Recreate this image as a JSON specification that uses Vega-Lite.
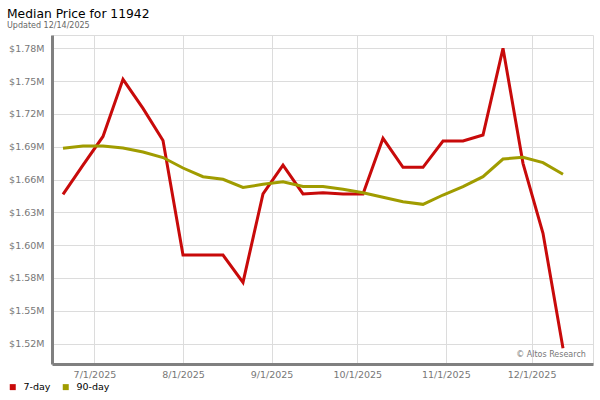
{
  "$schema": "https://vega.github.io/schema/vega-lite/v6.json",
  "width": 541,
  "height": 329,
  "autosize": {"type": "none"},
  "padding": {"left": 52, "top": 35, "right": 7, "bottom": 36},
  "background": "#ffffff",
  "title": {
    "text": "Median Price for 11942",
    "subtitle": "Updated 12/14/2025",
    "anchor": "start",
    "frame": "bounds",
    "font": "DejaVu Sans",
    "fontSize": 12.3,
    "fontWeight": "normal",
    "color": "#000000",
    "subtitleFont": "DejaVu Sans",
    "subtitleFontSize": 8,
    "subtitleColor": "#666666",
    "subtitlePadding": 2,
    "offset": 5,
    "dx": -1
  },
  "config": {
    "font": "DejaVu Sans",
    "view": {"stroke": "#dcdcdc", "strokeWidth": 1}
  },
  "datasets": {
    "prices": [
      {"date": "2025-06-20T00:00:00", "series": "7-day", "price": 1649000},
      {"date": "2025-06-27T00:00:00", "series": "7-day", "price": 1674700},
      {"date": "2025-07-04T00:00:00", "series": "7-day", "price": 1699800},
      {"date": "2025-07-11T00:00:00", "series": "7-day", "price": 1750000},
      {"date": "2025-07-18T00:00:00", "series": "7-day", "price": 1724500},
      {"date": "2025-07-25T00:00:00", "series": "7-day", "price": 1696200},
      {"date": "2025-08-01T00:00:00", "series": "7-day", "price": 1595700},
      {"date": "2025-08-08T00:00:00", "series": "7-day", "price": 1595700},
      {"date": "2025-08-15T00:00:00", "series": "7-day", "price": 1595700},
      {"date": "2025-08-22T00:00:00", "series": "7-day", "price": 1571700},
      {"date": "2025-08-29T00:00:00", "series": "7-day", "price": 1649300},
      {"date": "2025-09-05T00:00:00", "series": "7-day", "price": 1674700},
      {"date": "2025-09-12T00:00:00", "series": "7-day", "price": 1649300},
      {"date": "2025-09-19T00:00:00", "series": "7-day", "price": 1650400},
      {"date": "2025-09-26T00:00:00", "series": "7-day", "price": 1649300},
      {"date": "2025-10-03T00:00:00", "series": "7-day", "price": 1649300},
      {"date": "2025-10-10T00:00:00", "series": "7-day", "price": 1698200},
      {"date": "2025-10-17T00:00:00", "series": "7-day", "price": 1672700},
      {"date": "2025-10-24T00:00:00", "series": "7-day", "price": 1672700},
      {"date": "2025-10-31T00:00:00", "series": "7-day", "price": 1695800},
      {"date": "2025-11-07T00:00:00", "series": "7-day", "price": 1695800},
      {"date": "2025-11-14T00:00:00", "series": "7-day", "price": 1701100},
      {"date": "2025-11-21T00:00:00", "series": "7-day", "price": 1777200},
      {"date": "2025-11-28T00:00:00", "series": "7-day", "price": 1676200},
      {"date": "2025-12-05T00:00:00", "series": "7-day", "price": 1614800},
      {"date": "2025-12-12T00:00:00", "series": "7-day", "price": 1513800},
      {"date": "2025-06-20T00:00:00", "series": "90-day", "price": 1689400},
      {"date": "2025-06-27T00:00:00", "series": "90-day", "price": 1691400},
      {"date": "2025-07-04T00:00:00", "series": "90-day", "price": 1691400},
      {"date": "2025-07-11T00:00:00", "series": "90-day", "price": 1689700},
      {"date": "2025-07-18T00:00:00", "series": "90-day", "price": 1686100},
      {"date": "2025-07-25T00:00:00", "series": "90-day", "price": 1681300},
      {"date": "2025-08-01T00:00:00", "series": "90-day", "price": 1672100},
      {"date": "2025-08-08T00:00:00", "series": "90-day", "price": 1664500},
      {"date": "2025-08-15T00:00:00", "series": "90-day", "price": 1662200},
      {"date": "2025-08-22T00:00:00", "series": "90-day", "price": 1655000},
      {"date": "2025-08-29T00:00:00", "series": "90-day", "price": 1657800},
      {"date": "2025-09-05T00:00:00", "series": "90-day", "price": 1660100},
      {"date": "2025-09-12T00:00:00", "series": "90-day", "price": 1655900},
      {"date": "2025-09-19T00:00:00", "series": "90-day", "price": 1655900},
      {"date": "2025-09-26T00:00:00", "series": "90-day", "price": 1653400},
      {"date": "2025-10-03T00:00:00", "series": "90-day", "price": 1650400},
      {"date": "2025-10-10T00:00:00", "series": "90-day", "price": 1646400},
      {"date": "2025-10-17T00:00:00", "series": "90-day", "price": 1642500},
      {"date": "2025-10-24T00:00:00", "series": "90-day", "price": 1640200},
      {"date": "2025-10-31T00:00:00", "series": "90-day", "price": 1648400},
      {"date": "2025-11-07T00:00:00", "series": "90-day", "price": 1655700},
      {"date": "2025-11-14T00:00:00", "series": "90-day", "price": 1664500},
      {"date": "2025-11-21T00:00:00", "series": "90-day", "price": 1680000},
      {"date": "2025-11-28T00:00:00", "series": "90-day", "price": 1681500},
      {"date": "2025-12-05T00:00:00", "series": "90-day", "price": 1676800},
      {"date": "2025-12-12T00:00:00", "series": "90-day", "price": 1666600}
    ]
  },
  "layer": [
    {
      "data": {"name": "prices"},
      "mark": {"type": "line", "strokeWidth": 3, "strokeJoin": "miter", "clip": true},
      "encoding": {
        "x": {
          "field": "date",
          "type": "temporal",
          "scale": {
            "domain": [
              {"year": 2025, "month": 6, "date": 16, "hours": 3, "minutes": 36},
              {"year": 2025, "month": 12, "date": 22, "hours": 12}
            ]
          },
          "axis": {
            "title": null,
            "values": [
              {"year": 2025, "month": 7, "date": 1},
              {"year": 2025, "month": 8, "date": 1},
              {"year": 2025, "month": 9, "date": 1},
              {"year": 2025, "month": 10, "date": 1},
              {"year": 2025, "month": 11, "date": 1},
              {"year": 2025, "month": 12, "date": 1}
            ],
            "tickCount": 20,
            "format": "%-m/%-d/%Y",
            "labelFontSize": 9.5,
            "labelColor": "#777777",
            "labelPadding": 5,
            "labelOverlap": false,
            "ticks": false,
            "grid": true,
            "gridColor": "#dcdcdc",
            "domainColor": "#808080",
            "domainWidth": 3
          }
        },
        "y": {
          "field": "price",
          "type": "quantitative",
          "scale": {"domain": [1500000, 1788900], "nice": false, "zero": false},
          "axis": {
            "title": null,
            "values": [1518000, 1546800, 1575600, 1604400, 1633200, 1662000, 1690800, 1719600, 1748400, 1777200],
            "tickCount": 20,
            "labelExpr": "'$' + format(datum.value / 1000000, '.2f') + 'M'",
            "labelFontSize": 9.5,
            "labelColor": "#777777",
            "labelPadding": 8,
            "labelOverlap": false,
            "ticks": false,
            "grid": true,
            "gridColor": "#dcdcdc",
            "domainColor": "#808080",
            "domainWidth": 3
          }
        },
        "color": {
          "field": "series",
          "type": "nominal",
          "scale": {"domain": ["7-day", "90-day"], "range": ["#c80a0a", "#a09c00"]},
          "legend": {
            "title": null,
            "orient": "none",
            "legendX": -44,
            "legendY": 347,
            "direction": "horizontal",
            "symbolType": "square",
            "symbolSize": 36,
            "labelFontSize": 9.5,
            "labelColor": "#000000",
            "labelOffset": 6,
            "columnPadding": 10,
            "padding": 0,
            "encode": {
              "symbols": {
                "update": {
                  "fill": {"scale": "color", "field": "value"},
                  "stroke": {"value": "transparent"},
                  "strokeWidth": {"value": 0}
                }
              }
            }
          }
        }
      }
    },
    {
      "data": {"values": [{"note": "© Altos Research"}]},
      "mark": {"type": "text", "align": "right", "baseline": "alphabetic", "fontSize": 8, "color": "#777777"},
      "encoding": {
        "x": {"datum": {"year": 2025, "month": 12, "date": 20}, "type": "temporal"},
        "y": {"datum": 1506100, "type": "quantitative"},
        "text": {"field": "note"}
      }
    }
  ]
}
